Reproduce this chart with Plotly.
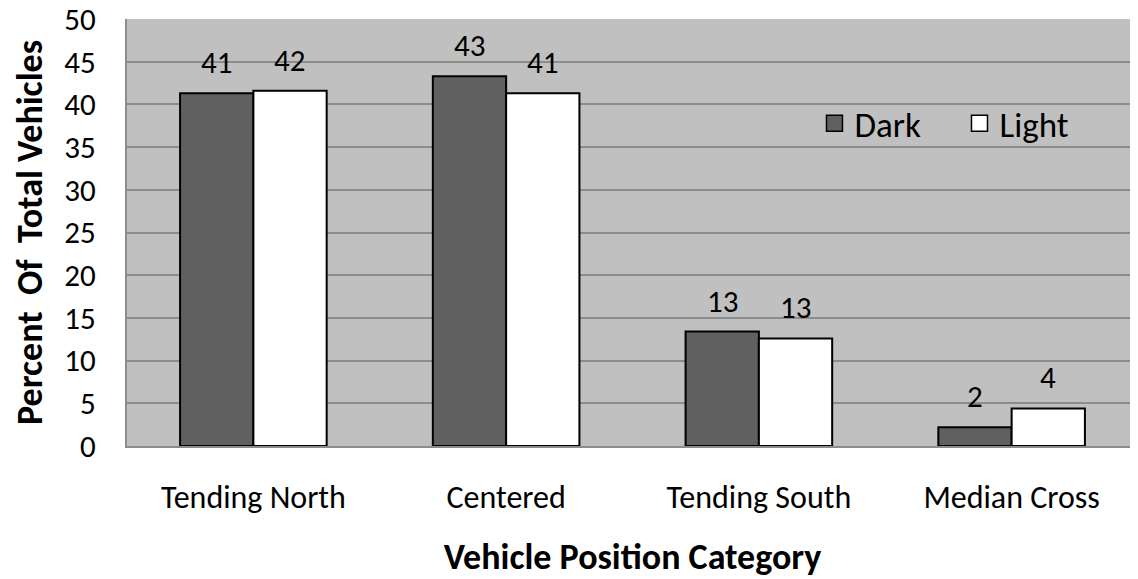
import plotly.graph_objects as go

categories = ["Tending North", "Centered", "Tending South", "Median Cross"]
dark_values = [41.3, 43.3, 13.4, 2.2]
light_values = [41.6, 41.3, 12.6, 4.4]
dark_labels = ["41", "43", "13", "2"]
light_labels = ["42", "41", "13", "4"]
y_ticks = [0, 5, 10, 15, 20, 25, 30, 35, 40, 45, 50]

FONT = "Carlito, Lato, 'Open Sans', sans-serif"
DARK = "#606060"

fig = go.Figure()
fig.add_trace(go.Bar(
    name="Dark", x=categories, y=dark_values, showlegend=False,
    marker=dict(color=DARK, line=dict(color="black", width=2)),
))
fig.add_trace(go.Bar(
    name="Light", x=categories, y=light_values, showlegend=False,
    marker=dict(color="white", line=dict(color="black", width=2)),
))
# legend entries with larger square swatches
for name, col in [("Dark", DARK), ("Light", "white")]:
    fig.add_trace(go.Scatter(
        name=name, x=[None], y=[None], mode="markers",
        marker=dict(symbol="square", size=19, color=col, line=dict(color="black", width=1.5)),
    ))

# value labels above bars
for i, c in enumerate(categories):
    fig.add_annotation(x=c, y=dark_values[i], text=dark_labels[i], showarrow=False,
                       xshift=-36.5, yshift=10, yanchor="bottom",
                       font=dict(family=FONT, size=31, color="black"))
    fig.add_annotation(x=c, y=light_values[i], text=light_labels[i], showarrow=False,
                       xshift=36.5, yshift=10, yanchor="bottom",
                       font=dict(family=FONT, size=31, color="black"))

# page body has an 8px margin: figure is sized/offset so the plot lands where the reference has it
fig.update_layout(
    width=1130, height=571,
    margin=dict(l=119, r=0, t=11, b=133, autoexpand=False),
    paper_bgcolor="white",
    plot_bgcolor="#C0C0C0",
    barmode="group",
    bargap=0.42,
    bargroupgap=0,
    font=dict(family=FONT, size=31, color="black"),
    legend=dict(
        orientation="h", x=0.68, y=0.755, xanchor="left", yanchor="middle",
        bgcolor="rgba(0,0,0,0)", font=dict(family=FONT, size=35),
        traceorder="normal", itemwidth=30, entrywidth=100,
    ),
    showlegend=True,
)
fig.update_xaxes(
    automargin=False,
    showgrid=False, showline=True, linecolor="#8c8c8c", linewidth=2,
    ticks="outside", ticklen=22, tickcolor="rgba(0,0,0,0)",
    tickfont=dict(family=FONT, size=32), ticklabeloverflow="allow",
    title=dict(text="<b>Vehicle Position Category</b>", font=dict(family=FONT, size=36), standoff=30),
)
fig.update_yaxes(
    automargin=False,
    range=[0, 50], tickvals=y_ticks, showgrid=True, gridcolor="#8c8c8c", gridwidth=2,
    showline=True, linecolor="#8c8c8c", linewidth=2, mirror=True,
    ticks="outside", ticklen=23, tickcolor="rgba(0,0,0,0)",
    tickfont=dict(family=FONT, size=31), zeroline=False, ticklabeloverflow="allow",
    title=dict(text="<b>Percent  Of  Total Vehicles</b>", font=dict(family=FONT, size=36), standoff=12),
)

fig.write_html("out.html")
